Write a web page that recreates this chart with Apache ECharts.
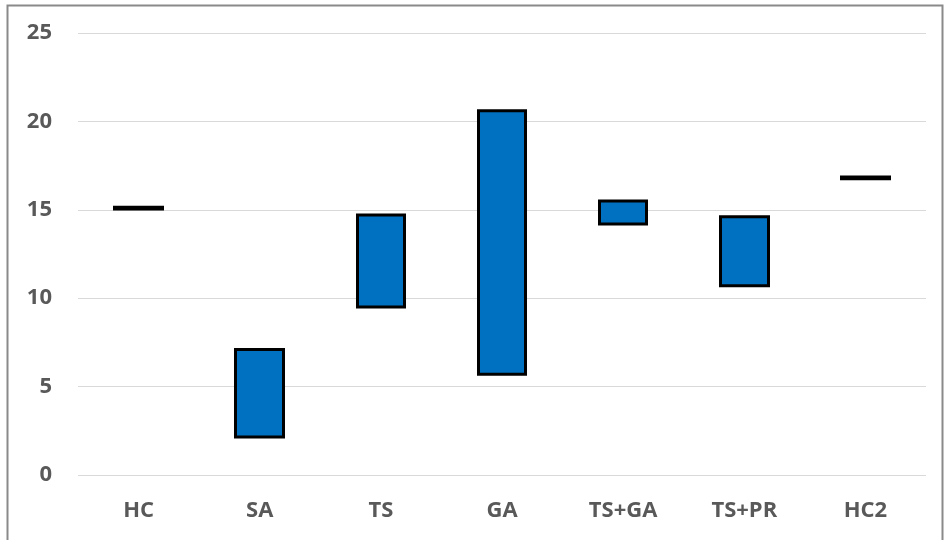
<!DOCTYPE html>
<html>
<head>
<meta charset="utf-8">
<script src="https://cdn.jsdelivr.net/npm/echarts@6/dist/echarts.min.js"></script>
<style>
  html, body { margin: 0; padding: 0; background: #fff; }
  #chart { width: 945px; height: 540px; }
</style>
</head>
<body>
<div id="chart"></div>
<script>
// Range per category: lower and upper end of each box
const categories = ['HC', 'SA', 'TS', 'GA', 'TS+GA', 'TS+PR', 'HC2'];
const lowValues  = [15.05, 2.15, 9.5, 5.7, 14.2, 10.7, 16.85];
const highValues = [15.15, 7.1, 14.7, 20.6, 15.5, 14.6, 16.75];
const yTicks = { min: 0, max: 25, interval: 5 };

// Candlestick boxes: [open, close, lowest, highest]; no wicks since extremes equal the box ends
const boxes = categories.map((c, i) => {
  const lo = Math.min(lowValues[i], highValues[i]);
  const hi = Math.max(lowValues[i], highValues[i]);
  return [lowValues[i], highValues[i], lo, hi];
});

const chart = echarts.init(document.getElementById('chart'), null, { renderer: 'canvas' });
const labelFont = { fontFamily: '"Open Sans", Lato, sans-serif', fontWeight: 'bold', fontSize: 22, color: '#595959' };

chart.setOption({
  animation: false,
  backgroundColor: '#ffffff',
  grid: { left: 78, right: 19, top: 33, bottom: 65, containLabel: false },
  xAxis: {
    type: 'category',
    data: categories,
    axisLine: { show: false },
    axisTick: { show: false },
    axisLabel: Object.assign({ margin: 25 }, labelFont),
    splitLine: { show: false }
  },
  yAxis: {
    type: 'value',
    min: yTicks.min,
    max: yTicks.max,
    interval: yTicks.interval,
    axisLine: { show: false },
    axisTick: { show: false },
    axisLabel: Object.assign({ margin: 26 }, labelFont),
    splitLine: { lineStyle: { color: '#d9d9d9', width: 1 } }
  },
  graphic: [{
    type: 'rect',
    shape: { x: 7.5, y: 5.5, width: 935, height: 560 },
    style: { fill: 'none', stroke: '#8a8a8a', lineWidth: 2 },
    silent: true,
    z: 100
  }],
  series: [{
    type: 'candlestick',
    data: boxes,
    barWidth: 48,
    itemStyle: {
      color: '#0070C0',
      color0: '#70AD47',
      borderColor: '#000000',
      borderColor0: '#000000',
      borderWidth: 3
    }
  }]
});
</script>
</body>
</html>
